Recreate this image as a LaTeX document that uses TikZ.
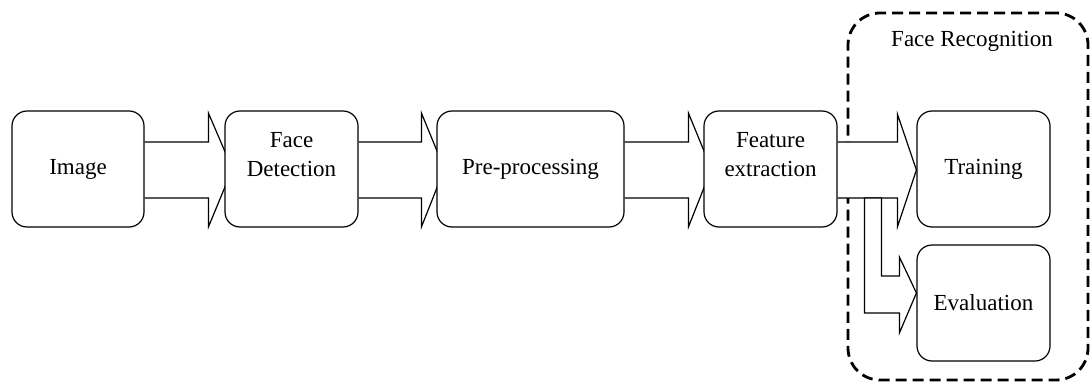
\documentclass[tikz,border=0pt]{standalone}
\usepackage{fontspec}
\setmainfont{Liberation Serif}
\usetikzlibrary{calc}
\pgfdeclarelayer{back}
\pgfdeclarelayer{bg}
\pgfsetlayers{back,bg,main}
\begin{document}
\begin{tikzpicture}[x=1pt,y=-1pt,
  box/.style={draw, line width=1.2pt, rounded corners=15pt, fill=white,
    minimum width=#1, minimum height=116pt, inner sep=0pt},
  txt/.style={inner sep=0pt, align=center, font=\fontsize{23}{29}\selectfont},
  arr/.style={draw, fill=white, line width=1.2pt, line join=miter},
  frame/.style={draw, line width=2.8pt, rounded corners=32pt, dash pattern=on 11pt off 6pt,
    minimum width=240pt, minimum height=367pt, inner sep=0pt}]
\useasboundingbox (0,0) rectangle (1091,390);
% boxes
\node[box=132pt] (img) at (78,169) {};
\node[txt] (imgt) at (img.center) {Image};
\node[box=133pt] (fd) at (291.5,169) {};
\node[txt] (fdt) at (291.5,155) {Face\\Detection};
\node[box=187pt] (pp) at (530.5,169) {};
\node[txt] (ppt) at (pp.center) {Pre-processing};
\node[box=133pt] (fe) at (770.5,169) {};
\node[txt] (fet) at (770.5,155) {Feature\\extraction};
\node[box=133pt] (tr) at (983.5,169) {};
\node[txt] (trt) at (tr.center) {Training};
\node[box=133pt] (ev) at (983.5,303) {};
\node[txt] (evt) at (ev.center) {Evaluation};
% frame
\begin{pgfonlayer}{back}
\node[frame] (fr) at (968,196.5) {};
\end{pgfonlayer}
\node[txt] (frt) at (972,41) {Face Recognition};
% arrows
\begin{pgfonlayer}{bg}
\draw[arr] ($(img.east)+(0,-27)$) -- ($(fd.west)+(-16,-27)$) -- ($(fd.west)+(-16,-56)$) -- ($(fd.west)+(8,0)$)
  -- ($(fd.west)+(-16,58)$) -- ($(fd.west)+(-16,29)$) -- ($(img.east)+(0,29)$);
\draw[arr] ($(fd.east)+(0,-27)$) -- ($(pp.west)+(-15,-27)$) -- ($(pp.west)+(-15,-56)$) -- ($(pp.west)+(8,0)$)
  -- ($(pp.west)+(-15,58)$) -- ($(pp.west)+(-15,29)$) -- ($(fd.east)+(0,29)$);
\draw[arr] ($(pp.east)+(0,-27)$) -- ($(fe.west)+(-15,-27)$) -- ($(fe.west)+(-15,-56)$) -- ($(fe.west)+(8,0)$)
  -- ($(fe.west)+(-15,58)$) -- ($(fe.west)+(-15,29)$) -- ($(pp.east)+(0,29)$);
\draw[arr] ($(fe.east)+(0,-27)$) -- ($(tr.west)+(-19,-27)$) -- ($(tr.west)+(-19,-55)$) -- ($(tr.west)+(0,1)$)
  -- ($(tr.west)+(-19,58)$) -- ($(tr.west)+(-19,29)$) -- ($(fe.east)+(0,29)$);
\coordinate (s4b) at ($(fe.east)+(0,29)$);
\coordinate (eo) at ($(ev.west)+(-52,0)$);
\coordinate (ei) at ($(ev.west)+(-35,0)$);
\draw[arr] (eo |- s4b) -- (ei |- s4b) -- ($(ei)+(0,-27)$) -- ($(ev.west)+(-17,-27)$) -- ($(ev.west)+(-17,-46)$)
  -- ($(ev.west)+(0,-10)$) -- ($(ev.west)+(-17,30)$) -- ($(ev.west)+(-17,10)$) -- ($(ev.west)+(-52,10)$) -- cycle;
\end{pgfonlayer}
\end{tikzpicture}
\end{document}
